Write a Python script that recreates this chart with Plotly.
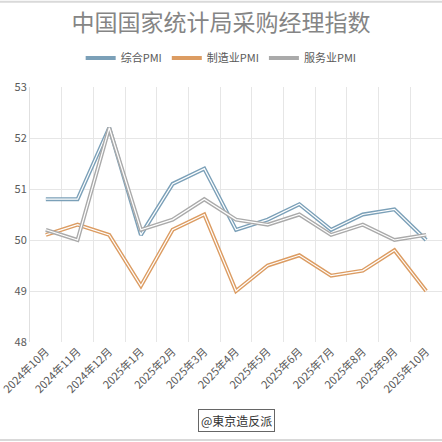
import plotly.graph_objects as go

# 国家统计局 PMI, 2024年10月 - 2025年10月
months = ["2024年10月", "2024年11月", "2024年12月", "2025年1月", "2025年2月",
          "2025年3月", "2025年4月", "2025年5月", "2025年6月", "2025年7月",
          "2025年8月", "2025年9月", "2025年10月"]
composite = [50.8, 50.8, 52.2, 50.1, 51.1, 51.4, 50.2, 50.4, 50.7, 50.2, 50.5, 50.6, 50.0]
manufacturing = [50.1, 50.3, 50.1, 49.1, 50.2, 50.5, 49.0, 49.5, 49.7, 49.3, 49.4, 49.8, 49.0]
services = [50.2, 50.0, 52.2, 50.2, 50.4, 50.8, 50.4, 50.3, 50.5, 50.1, 50.3, 50.0, 50.1]

series = [
    ("综合PMI", composite, "#7ba0b8"),
    ("制造业PMI", manufacturing, "#dc9c62"),
    ("服务业PMI", services, "#aaaaaa"),
]

font = "Noto Sans CJK SC"

fig = go.Figure()

# double line look: thick coloured line with a thin white line on top
for name, vals, color in series:
    fig.add_trace(go.Scatter(
        x=months, y=vals, mode="lines", name=name,
        line=dict(color=color, width=4)
    ))
    fig.add_trace(go.Scatter(
        x=months, y=vals, mode="lines", showlegend=False, hoverinfo="skip",
        line=dict(color="white", width=1.2)
    ))

fig.update_layout(
    width=442, height=442,
    margin=dict(l=30, r=0, t=87, b=100),
    paper_bgcolor="white", plot_bgcolor="white",
    font=dict(family=font, color="#595959"),
    title=dict(
        text="中国国家统计局采购经理指数",
        x=0.5, xanchor="center", y=0.948, yanchor="middle",
        font=dict(family=font, size=23, color="#858585")
    ),
    legend=dict(
        orientation="h", x=0.464, xanchor="center", y=1.114, yanchor="middle",
        font=dict(size=11, color="#595959"), itemwidth=30
    ),
    xaxis=dict(
        type="category", tickson="boundaries", tickangle=-45,
        range=[-0.5, 12.5], automargin=False,
        showgrid=True, gridcolor="#e6e6e6", ticks="",
        showline=False, tickfont=dict(size=11, color="#595959")
    ),
    yaxis=dict(
        range=[48, 53], dtick=1, showgrid=True, gridcolor="#e6e6e6",
        zeroline=False, showline=True, linecolor="#e0e0e0", ticks="",
        automargin=False, tickfont=dict(size=11, color="#595959")
    ),
    annotations=[dict(
        text="@東京造反派", x=0.501, y=-0.352, xref="paper", yref="paper",
        showarrow=False, bordercolor="#666666", borderwidth=1, borderpad=2,
        font=dict(size=12, color="#333333"), bgcolor="white"
    )],
    shapes=[
        dict(type="line", xref="paper", yref="paper", x0=-1, x1=2,
             y0=1.334, y1=1.334, line=dict(color="#d9d9d9", width=2)),
        dict(type="line", xref="paper", yref="paper", x0=-1, x1=2,
             y0=-0.384, y1=-0.384, line=dict(color="#d9d9d9", width=2)),
    ],
)

# drop the default page margin so the figure fills the window
fig.write_html("out.html", config={"displayModeBar": False},
               post_script="document.body.style.margin='0';")
